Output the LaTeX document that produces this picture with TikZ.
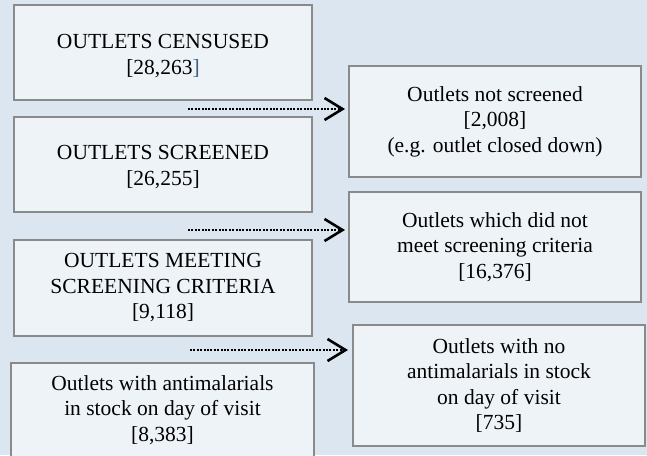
\documentclass[tikz,border=0pt]{standalone}
\usepackage{fontspec}
\setmainfont{Liberation Serif}
\usetikzlibrary{arrows.meta}
\definecolor{bgc}{HTML}{DCE6F1}
\definecolor{boxc}{HTML}{EEF3F8}
\definecolor{edgec}{HTML}{8A8A8A}
\definecolor{brk}{HTML}{3F5F80}
\tikzset{
  flowbox/.style={draw=edgec, line width=2pt, fill=boxc, align=center, inner sep=0pt,
    font=\fontsize{21.5}{25.5}\selectfont, text=black},
  boxtext/.style={align=center, inner sep=0pt, font=\fontsize{21.5}{25.5}\selectfont},
  dotarrow/.style={line width=2.5pt, dash pattern=on 2pt off 1.4pt,
    -{Straight Barb[length=18pt,width=22pt,line width=2.6pt]}}
}
\begin{document}
\begin{tikzpicture}[x=1pt,y=-1pt]
\fill[bgc] (0,0) rectangle (647,455);
\clip (0,0) rectangle (647,455);
\useasboundingbox (0,0) rectangle (647,455);
% left column
\node[flowbox, minimum width=298pt, minimum height=95pt] (cens) at (163,52.5) {};
\node[boxtext] (censt) at (163,56) {OUTLETS CENSUSED\\{}[28,263\textcolor{brk}{]}};
\node[flowbox, minimum width=298pt, minimum height=95pt] (scr) at (163,164.5) {};
\node[boxtext] (scrt) at (163,167) {OUTLETS SCREENED\\{}[26,255]};
\node[flowbox, minimum width=298pt, minimum height=96pt] (meet) at (163,288) {OUTLETS MEETING\\SCREENING CRITERIA\\{}[9,118]};
\node[flowbox, minimum width=303pt, minimum height=120pt] (anti) at (162.5,423) {};
\node[boxtext] (antit) at (162.5,410) {Outlets with antimalarials\\in stock on day of visit\\{}[8,383]};
% right column
\node[flowbox, minimum width=292pt, minimum height=111pt] (nscr) at (495,121.5) {Outlets not screened\\{}[2,008]\\(e.g. outlet closed down)};
\node[flowbox, minimum width=292pt, minimum height=110pt] (nmeet) at (495,247) {Outlets which did not\\meet screening criteria\\{}[16,376]};
\node[flowbox, minimum width=292pt, minimum height=121pt] (nanti) at (499,385.5) {Outlets with no\\antimalarials in stock\\on day of visit\\{}[735]};
% arrows
\coordinate (a1) at (188,109);
\coordinate (a2) at (188,230);
\coordinate (a3) at (190,350);
\draw[dotarrow, shorten >=3pt] (a1) -- (a1 -| nscr.west);
\draw[dotarrow, shorten >=3pt] (a2) -- (a2 -| nmeet.west);
\draw[dotarrow, shorten >=4pt] (a3) -- (a3 -| nanti.west);
\end{tikzpicture}
\end{document}
